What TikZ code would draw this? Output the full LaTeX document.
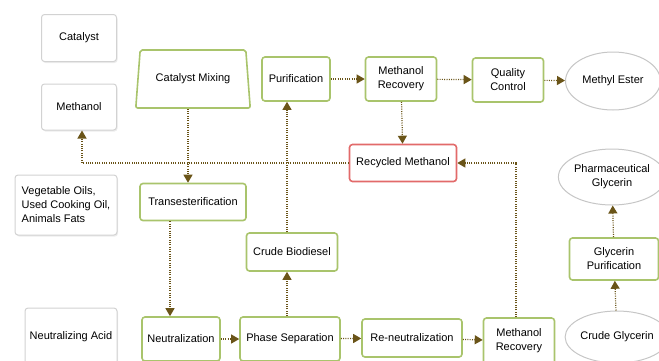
\documentclass[tikz,border=0pt]{standalone}
\usepackage{fontspec}
\setmainfont{Liberation Sans}
\usepackage{xcolor}
\usetikzlibrary{shapes.geometric}
\usetikzlibrary{arrows.meta}
\usetikzlibrary{shadows}

\definecolor{boxgreen}{HTML}{A9C46C}
\definecolor{flowbrown}{HTML}{6A5418}
\definecolor{recred}{HTML}{E26A6A}

\tikzset{
    inbox/.style = {draw = gray!35, line width = 1pt, rounded corners = 3pt, fill = white,
        drop shadow = {opacity = 0.15, shadow xshift = 1pt, shadow yshift = -1.5pt},
        align = center, inner sep = 2pt, font = \fontsize{11}{14}\selectfont},
    stepbox/.style = {draw = boxgreen, line width = 1.6pt, rounded corners = 3pt, fill = white,
        align = center, inner sep = 2pt, font = \fontsize{11}{14}\selectfont},
    endell/.style = {ellipse, draw = gray!45, line width = 1pt, fill = white,
        align = center, inner sep = 0pt, font = \fontsize{11}{14}\selectfont},
    flow/.style = {flowbrown, line width = 1.2pt, dash pattern = on 1pt off 1.3pt,
        -{Triangle[width = 9pt, length = 8pt]}}
}

\begin{document}
\begin{tikzpicture}[x = 1pt, y = -1pt]
        \useasboundingbox (0, 0) rectangle (659, 360);

        % raw inputs
        \node[inbox, minimum width = 75, minimum height = 47] (catalyst) at (79, 38) {Catalyst};
        \node[inbox, minimum width = 75, minimum height = 46] (methanol) at (79, 107) {Methanol};
        \node[inbox, minimum width = 102, minimum height = 60, align = left] (oils) at (66, 205)
            {Vegetable Oils,\\Used Cooking Oil,\\Animals Fats};
        \node[inbox, minimum width = 92, minimum height = 58] (acid) at (71, 337) {Neutralizing Acid};

        % process steps
        \node[stepbox, trapezium, trapezium stretches = true, rounded corners = 2pt,
            trapezium left angle = 77, trapezium right angle = 77,
            minimum width = 115, minimum height = 58] (mixing) at (193, 79) {Catalyst Mixing};
        \node[stepbox, minimum width = 68, minimum height = 44] (purif) at (296, 79) {Purification};
        \node[stepbox, minimum width = 71, minimum height = 44] (recov) at (401, 79) {Methanol\\Recovery};
        \node[stepbox, minimum width = 71, minimum height = 44] (quality) at (508, 80) {Quality\\Control};
        \node[stepbox, draw = recred, minimum width = 107, minimum height = 37] (recycled) at (403, 163)
            {Recycled Methanol};
        \node[stepbox, minimum width = 106, minimum height = 37] (trans) at (193, 202) {Transesterification};
        \node[stepbox, minimum width = 91, minimum height = 38] (biodiesel) at (292, 252) {Crude Biodiesel};
        \node[stepbox, minimum width = 78, minimum height = 44] (neutral) at (181, 339) {Neutralization};
        \node[stepbox, minimum width = 100, minimum height = 44] (phase) at (290, 339) {Phase Separation};
        \node[stepbox, minimum width = 100, minimum height = 38] (reneutral) at (412, 338) {Re-neutralization};
        \node[stepbox, minimum width = 71, minimum height = 46] (recov2) at (519, 341) {Methanol\\Recovery};
        \node[stepbox, minimum width = 89, minimum height = 42] (glypur) at (614, 259) {Glycerin\\Purification};

        % products
        \node[endell, minimum width = 95, minimum height = 58] (ester) at (613, 81) {Methyl Ester};
        \node[endell, minimum width = 98, minimum height = 56] (pharma) at (612, 177) {Pharmaceutical\\Glycerin};
        \node[endell, minimum width = 92, minimum height = 52] (crudegly) at (617, 337) {Crude Glycerin};

        % flows
        \draw[flow] (mixing.south -| 188, 0) -- (188, 0 |- trans.north);
        \draw[flow] (recycled.west) -| (82, 0 |- methanol.south);
        \draw[flow] (trans.south -| 170, 0) -- (170, 0 |- neutral.north);
        \draw[flow] (neutral) -- (phase);
        \draw[flow] (phase) -- (reneutral);
        \draw[flow] (reneutral) -- (recov2);
        \draw[flow] (phase.north -| 287, 0) -- (287, 0 |- biodiesel.south);
        \draw[flow] (biodiesel.north -| 287, 0) -- (287, 0 |- purif.south);
        \draw[flow] (purif) -- (recov);
        \draw[flow] (recov) -- (quality);
        \draw[flow] (quality) -- (ester);
        \draw[flow] (recov) -- (recycled);
        \draw[flow] (recov2.north -| 516, 0) |- (recycled.east);
        \draw[flow] (crudegly) -- (glypur);
        \draw[flow] (glypur) -- (pharma);
    \end{tikzpicture}
\end{document}
